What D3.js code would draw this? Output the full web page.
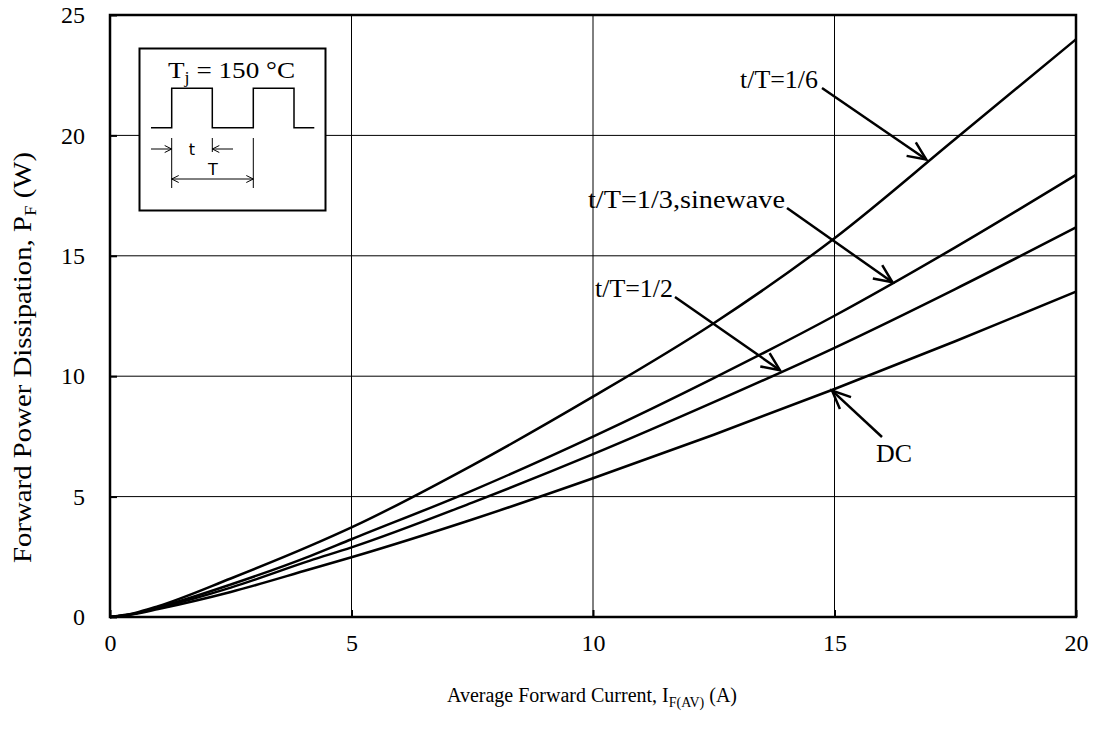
<!DOCTYPE html>
<html><head><meta charset="utf-8">
<script src="https://cdn.jsdelivr.net/npm/d3@7"></script>
<style>body{margin:0;background:#fff}svg{display:block}text{fill:#000}</style>
</head><body><svg id="c" width="1096" height="729"></svg>
<script>
const current = [0, 0.5, 1, 2.5, 4.14, 5, 7.5, 10, 12.5, 15, 17.5, 20];
const p_1_6  = [0, 0.16, 0.45, 1.6, 2.95, 3.72, 6.3, 9.15, 12.2, 15.73, 19.85, 23.99];
const p_1_3  = [0, 0.14, 0.40, 1.35, 2.53, 3.23, 5.25, 7.49, 9.92, 12.51, 15.35, 18.36];
const p_1_2  = [0, 0.13, 0.37, 1.22, 2.34, 2.89, 4.75, 6.76, 8.92, 11.18, 13.62, 16.18];
const p_dc   = [0, 0.12, 0.33, 1.04, 1.98, 2.48, 4.05, 5.76, 7.57, 9.47, 11.45, 13.51];
const seriesNames = ["t/T=1/6", "t/T=1/3,sinewave", "t/T=1/2", "DC"];
const xTicks = [0, 5, 10, 15, 20];
const yTicks = [0, 5, 10, 15, 20, 25];
const annLabel = ["t/T=1/6", "t/T=1/3,sinewave", "t/T=1/2", "DC"];
const annTipX = [16.9, 16.2, 13.87, 14.95];
const annTipY = [19.0, 13.9, 10.25, 9.4];

const SERIF = "'Liberation Serif','Times New Roman',serif";
const svg = d3.select("#c");
const L = 110, R = 1076, T = 15, B = 617;
const x = d3.scaleLinear().domain([0, 20]).range([L, R]);
const y = d3.scaleLinear().domain([0, 25]).range([B, T]);

// grid
const g = svg.append("g");
g.selectAll("line.vx").data(xTicks.slice(1, -1)).join("line")
  .attr("x1", d => x(d)).attr("x2", d => x(d)).attr("y1", T).attr("y2", B)
  .attr("stroke", "#000").attr("stroke-width", 1);
g.selectAll("line.hy").data(yTicks.slice(1, -1)).join("line")
  .attr("x1", L).attr("x2", R).attr("y1", d => y(d)).attr("y2", d => y(d))
  .attr("stroke", "#000").attr("stroke-width", 1);

// inward tick marks
const xa = svg.append("g").attr("transform", `translate(0,${B})`)
  .call(d3.axisBottom(x).tickValues(xTicks).tickSize(-7).tickPadding(17).tickFormat(d3.format("d")));
const ya = svg.append("g").attr("transform", `translate(${L},0)`)
  .call(d3.axisLeft(y).tickValues(yTicks).tickSize(-7).tickPadding(25).tickFormat(d3.format("d")));
[xa, ya].forEach(a => {
  a.select(".domain").remove();
  a.selectAll(".tick line").attr("stroke", "#000").attr("stroke-width", 2);
  a.selectAll(".tick text").style("font-family", SERIF).style("font-size", "24px").attr("fill", "#000");
});
xa.selectAll(".tick text").attr("dy", "0.71em");

// inset
const ins = svg.append("g");
ins.append("rect").attr("x", 139.5).attr("y", 48.5).attr("width", 186).attr("height", 162)
  .attr("fill", "#fff").attr("stroke", "#000").attr("stroke-width", 2);
const tj = ins.append("text").attr("x", 168).attr("y", 78)
  .style("font-family", SERIF).style("font-size", "24px")
  .attr("textLength", 127).attr("lengthAdjust", "spacingAndGlyphs");
tj.append("tspan").text("T");
tj.append("tspan").style("font-size", "16px").attr("dy", 5).text("j");
tj.append("tspan").attr("dy", -5).text(" = 150 °C");
const wave = [[151,127.7],[171.7,127.7],[171.7,88.3],[212.3,88.3],[212.3,127.7],[253.3,127.7],[253.3,88.3],[294,88.3],[294,127.7],[314.3,127.7]];
ins.append("path").attr("d", d3.line()(wave)).attr("fill", "none").attr("stroke", "#000").attr("stroke-width", 1.5);
const thin = (x1,y1,x2,y2) => ins.append("line").attr("x1",x1).attr("y1",y1).attr("x2",x2).attr("y2",y2).attr("stroke","#000").attr("stroke-width",1);
thin(171.7,138,171.7,188); thin(253.3,138,253.3,188); thin(212.3,138,212.3,152);
thin(151,149,171.7,149); thin(212.3,149,233,149); thin(171.7,179,253.3,179);
const head = (tx,ty,dir) => {
  ins.append("path").attr("d", d3.line()([[tx-dir*7,ty-3.5],[tx,ty],[tx-dir*7,ty+3.5]]))
    .attr("fill","none").attr("stroke","#000").attr("stroke-width",1);
};
head(171.7,149,1); head(212.3,149,-1); head(171.7,179,-1); head(253.3,179,1);
ins.append("text").attr("x", 192).attr("y", 155).attr("text-anchor","middle").style("font-family","'DejaVu Sans',sans-serif").style("font-size","16px").text("t");
ins.append("text").attr("x", 213).attr("y", 175).attr("text-anchor","middle").style("font-family","'DejaVu Sans',sans-serif").style("font-size","16px").text("T");

// curves
const series = [p_1_6, p_1_3, p_1_2, p_dc];
const line = d3.line().x((d,i) => x(current[i])).y(d => y(d)).curve(d3.curveMonotoneX);
svg.append("g").selectAll("path").data(series).join("path")
  .attr("d", d => line(d)).attr("fill", "none").attr("stroke", "#000").attr("stroke-width", 2.5);

// frame
svg.append("rect").attr("x", L).attr("y", T).attr("width", R - L).attr("height", B - T)
  .attr("fill", "none").attr("stroke", "#000").attr("stroke-width", 2.5);

// annotations
const labPos = [[740, 88, 822, 88, 78], [588, 208, 787, 208, 197], [595, 297, 675, 297, 78], [876, 462, 882, 437, 36]];
const ann = svg.append("g");
annLabel.forEach((t, i) => {
  const [lx, ly, sx, sy, w] = labPos[i];
  ann.append("text").attr("x", lx).attr("y", ly).style("font-family", SERIF).style("font-size", "25px")
    .attr("textLength", w).attr("lengthAdjust", "spacingAndGlyphs").text(t);
  const tx = x(annTipX[i]), ty = y(annTipY[i]);
  ann.append("line").attr("x1", sx).attr("y1", sy).attr("x2", tx).attr("y2", ty).attr("stroke", "#000").attr("stroke-width", 2.5);
  const ang = Math.atan2(ty - sy, tx - sx), len = 20, a = 0.42;
  const p1 = [tx - len * Math.cos(ang - a), ty - len * Math.sin(ang - a)];
  const p2 = [tx - len * Math.cos(ang + a), ty - len * Math.sin(ang + a)];
  ann.append("path").attr("d", d3.line()([p1, [tx, ty], p2])).attr("fill", "none").attr("stroke", "#000").attr("stroke-width", 2.5);
});

// axis titles
const xt = svg.append("text").attr("x", 592).attr("y", 702).attr("text-anchor", "middle")
  .style("font-family", SERIF).style("font-size", "20px");
xt.append("tspan").text("Average Forward Current, I");
xt.append("tspan").style("font-size", "14px").attr("dy", 5).text("F(AV)");
xt.append("tspan").attr("dy", -5).text(" (A)");
const yt = svg.append("text").attr("transform", "translate(31,563) rotate(-90)")
  .style("font-family", SERIF).style("font-size", "26px")
  .attr("textLength", 411).attr("lengthAdjust", "spacingAndGlyphs");
yt.append("tspan").text("Forward Power Dissipation, P");
yt.append("tspan").style("font-size", "17px").attr("dy", 5).text("F");
yt.append("tspan").attr("dy", -5).text(" (W)");
</script></body></html>
